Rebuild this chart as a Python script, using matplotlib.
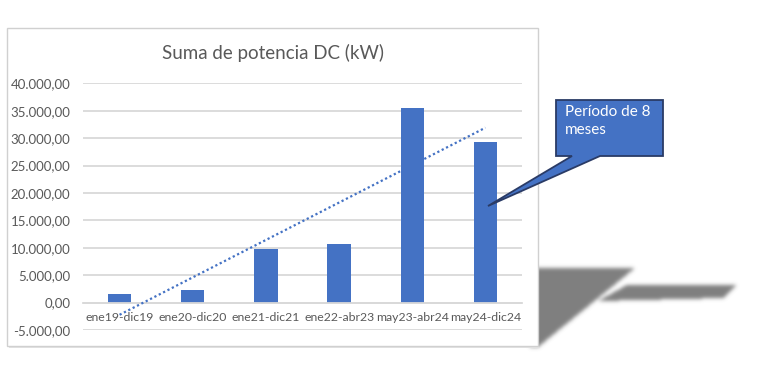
import numpy as np
import matplotlib
matplotlib.use("Agg")
import matplotlib.pyplot as plt
from matplotlib.patches import Polygon, Rectangle
from matplotlib.path import Path

categories = ["ene19-dic19", "ene20-dic20", "ene21-dic21", "ene22-abr23", "may23-abr24", "may24-dic24"]
values = [1530, 2300, 9830, 10680, 35440, 29250]
title = "Suma de potencia DC (kW)"
callout_text = "Período de 8\nmeses"
yticks = [-5000, 0, 5000, 10000, 15000, 20000, 25000, 30000, 35000, 40000]

FONT = "Lato"
BLUE = "#4472C4"
GRAY_TXT = "#595959"
GRID = "#D9D9D9"

W, H = 768, 374
fig = plt.figure(figsize=(W / 100, H / 100), dpi=100)
fig.patch.set_facecolor("white")

# overlay in pixel coordinates for decorations
ov = fig.add_axes([0, 0, 1, 1], zorder=0)
ov.set_xlim(0, W)
ov.set_ylim(H, 0)
ov.axis("off")

# blurred shadow shapes
shadow1 = [(530, 268), (635, 268), (538, 347), (530, 347)]
shadow2 = [(627, 285), (737, 285), (723, 298), (598, 301)]
yy, xx = np.mgrid[0:H, 0:W]
pts = np.column_stack([xx.ravel() + 0.5, yy.ravel() + 0.5])
mask = np.zeros(H * W)
for poly in (shadow1, shadow2):
    mask = np.maximum(mask, Path(poly).contains_points(pts).astype(float))
mask = mask.reshape(H, W)
k = np.exp(-0.5 * (np.arange(-6, 7) / 2.0) ** 2)
k /= k.sum()
mask = np.apply_along_axis(lambda r: np.convolve(r, k, mode="same"), 1, mask)
mask = np.apply_along_axis(lambda c: np.convolve(c, k, mode="same"), 0, mask)
rgba = np.zeros((H, W, 4))
rgba[..., :3] = 0.5
rgba[..., 3] = mask
ov.imshow(rgba, extent=(0, W, H, 0), interpolation="bilinear", zorder=0)
ov.set_xlim(0, W)
ov.set_ylim(H, 0)

# chart frame
ov.add_patch(Rectangle((9, 30), 530, 318, facecolor="#E3E3E3", edgecolor="none", zorder=1))
ov.add_patch(Rectangle((7, 28), 531, 318, facecolor="white", edgecolor="#D0D0D0", linewidth=1, zorder=2))

ov.text(273.5, 53, title, ha="center", va="center", fontsize=13.5, color=GRAY_TXT, family=FONT, zorder=3)

# main axes
left, right = 83, 522
top, bottom = 83.3, 330
ax = fig.add_axes([left / W, 1 - bottom / H, (right - left) / W, (bottom - top) / H], zorder=1)
ax.patch.set_alpha(0)

x = np.arange(len(categories))
ax.bar(x, values, width=0.32, color=BLUE, zorder=2)

# linear trendline
coef = np.polyfit(x, values, 1)
ax.plot(x, np.polyval(coef, x), linestyle=(0, (1, 1.2)), color=BLUE, linewidth=1.6, zorder=3)

ax.set_ylim(-5000, 40000)
ax.set_xlim(-0.5, len(categories) - 0.5)
ax.set_yticks(yticks)
ax.set_yticklabels([f"{v:,.2f}".replace(",", "X").replace(".", ",").replace("X", ".") for v in yticks])
ax.set_xticks(x)
ax.set_xticklabels(categories)
ax.yaxis.grid(True, color=GRID, linewidth=1.3, zorder=0)
ax.set_axisbelow(True)
for s in ["top", "right", "left"]:
    ax.spines[s].set_visible(False)
ax.spines["bottom"].set_position(("data", 0))
ax.spines["bottom"].set_color(GRID)
ax.spines["bottom"].set_linewidth(1.3)
ax.tick_params(axis="y", length=0, pad=9, labelsize=9.5, labelcolor=GRAY_TXT)
ax.tick_params(axis="x", length=0, pad=7, labelsize=8.8, labelcolor=GRAY_TXT)
for lab in ax.get_xticklabels() + ax.get_yticklabels():
    lab.set_family(FONT)

# callout (on top)
ov2 = fig.add_axes([0, 0, 1, 1], zorder=2)
ov2.set_xlim(0, W)
ov2.set_ylim(H, 0)
ov2.axis("off")
call = [(556, 100), (663, 100), (663, 156), (600, 156), (488, 206), (572, 156), (556, 156)]
ov2.add_patch(Polygon(call, closed=True, facecolor=BLUE, edgecolor="#2A3B66", linewidth=1.3))
ov2.text(565, 105, callout_text, ha="left", va="top", fontsize=11, color="white",
         family=FONT, linespacing=1.4)

fig.savefig("out.png", dpi=100)
